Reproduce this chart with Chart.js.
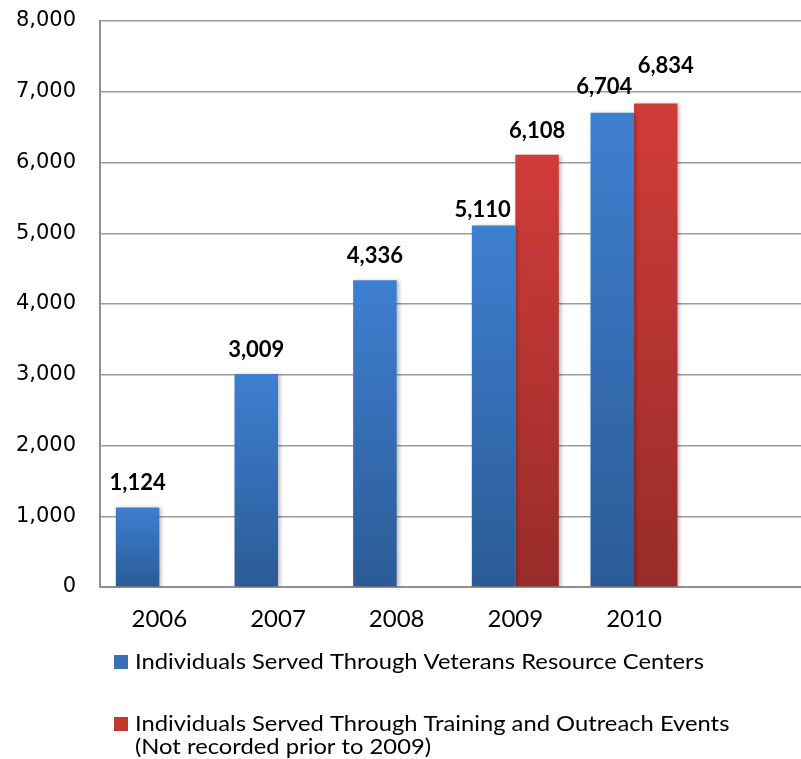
<!DOCTYPE html>
<html>
<head>
<meta charset="utf-8">
<script src="https://cdn.jsdelivr.net/npm/chart.js@4.4.1/dist/chart.umd.min.js"></script>
<style>
  html, body { margin: 0; padding: 0; background: #fff; overflow: hidden; }
  #wrap { position: relative; width: 812px; height: 759px; }
</style>
</head>
<body>
<div id="wrap"><canvas id="chart1"></canvas></div>
<script>
// Data
const years = ['2006', '2007', '2008', '2009', '2010', '']
const resourceCenters = [1124, 3009, 4336, 5110, 6704, null]
const outreachEvents = [null, null, null, 6108, 6834, null]
const yMax = 8000
const yStep = 1000

const seriesNames = [
    ['Individuals Served Through Veterans Resource Centers'],
    ['Individuals Served Through Training and Outreach Events', '(Not recorded prior to 2009)']
]

// gradient colours (top, bottom) and legend swatch colour
const blueTop = '#3e7fd0', blueBottom = '#2b5b96', blueSwatch = '#3a70b8'
const redTop = '#d03c3a', redBottom = '#982c29', redSwatch = '#c2382f'

// little hand placed shifts on some value labels [dx, gap]
const labelNudge = {
    '0-3': [-11, 8],
    '0-4': [-8, 19],
    '1-4': [10, 30]
}

function barGradient(top, bottom) {
    return (context) => {
        const chart = context.chart
        const area = chart.chartArea
        if (!area || context.raw == null) return top
        const y = chart.scales.y
        const yTop = y.getPixelForValue(context.raw)
        const yBase = y.getPixelForValue(0)
        const g = chart.ctx.createLinearGradient(0, yTop, 0, yBase)
        g.addColorStop(0, top)
        g.addColorStop(1, bottom)
        return g
    }
}

// soft shadow under the bars
const barShadow = {
    id: 'barShadow',
    beforeDatasetsDraw(chart) {
        const ctx = chart.ctx
        ctx.save()
        ctx.shadowColor = 'rgba(0,0,0,0.28)'
        ctx.shadowBlur = 4
        ctx.shadowOffsetX = 2
        ctx.shadowOffsetY = 1
    },
    afterDatasetsDraw(chart) {
        chart.ctx.restore()
    }
}

// value labels above each bar
const valueLabels = {
    id: 'valueLabels',
    afterDraw(chart) {
        const ctx = chart.ctx
        ctx.save()
        ctx.font = 'bold 22px Lato'
        ctx.fillStyle = '#000'
        ctx.textAlign = 'center'
        ctx.textBaseline = 'alphabetic'
        chart.data.datasets.forEach((ds, di) => {
            const meta = chart.getDatasetMeta(di)
            meta.data.forEach((bar, i) => {
                const v = ds.data[i]
                if (v == null) return
                const nudge = labelNudge[di + '-' + i] || [0, 17]
                ctx.fillText(v.toLocaleString('en-US'), bar.x + nudge[0], bar.y - nudge[1])
            })
        })
        ctx.restore()
    }
}

// legend under the axis, one item per row, second one on two lines
const stackedLegend = {
    id: 'stackedLegend',
    afterDraw(chart) {
        const ctx = chart.ctx
        const left = chart.chartArea.left
        const base = chart.chartArea.bottom
        const rows = [[75], [137, 160]]
        ctx.save()
        ctx.font = '22px Lato'
        ctx.fillStyle = '#000'
        ctx.textBaseline = 'middle'
        chart.data.datasets.forEach((ds, di) => {
            const lines = seriesNames[di]
            const ys = rows[di]
            ctx.fillStyle = ds.swatch
            ctx.fillRect(left + 14, base + ys[0] - 7, 14, 14)
            ctx.fillStyle = '#000'
            lines.forEach((t, li) => {
                ctx.save()
                ctx.translate(left + 35, base + ys[li])
                ctx.scale(1.08, 1)
                ctx.fillText(t, 0, 0)
                ctx.restore()
            })
        })
        ctx.restore()
    }
}

const ctx = document.getElementById('chart1').getContext('2d')

const chart1 = new Chart(ctx, {
    type: 'bar',
    data: {
        labels: years,
        datasets: [{
            label: seriesNames[0].join(' '),
            data: resourceCenters,
            backgroundColor: barGradient(blueTop, blueBottom),
            swatch: blueSwatch,
            borderWidth: 0
        }, {
            label: seriesNames[1].join(' '),
            data: outreachEvents,
            backgroundColor: barGradient(redTop, redBottom),
            swatch: redSwatch,
            borderWidth: 0
        }]
    },
    options: {
        responsive: true,
        maintainAspectRatio: false,
        animation: false,
        categoryPercentage: 0.733,
        barPercentage: 1,
        layout: {
            padding: { top: 21, right: 0, bottom: 112, left: 0 }
        },
        plugins: {
            legend: { display: false },
            tooltip: { enabled: false }
        },
        scales: {
            x: {
                grid: { display: false, drawTicks: false },
                border: { display: true, color: '#8f8f8f', width: 2 },
                ticks: {
                    color: '#000',
                    font: { family: 'Lato', size: 24 },
                    padding: 18,
                    maxRotation: 0
                },
                afterFit: (axis) => { axis.height = 60 }
            },
            y: {
                min: 0,
                max: yMax,
                grid: { color: '#9a9a9a', lineWidth: 1.5, drawTicks: false },
                border: { display: true, color: '#8f8f8f', width: 2 },
                ticks: {
                    stepSize: yStep,
                    color: '#000',
                    font: { family: 'DejaVu Sans', size: 21 },
                    padding: 24,
                    callback: (v) => v.toLocaleString('en-US')
                },
                afterFit: (axis) => {
                    axis.width = 100
                    axis.paddingTop = 0
                    axis.paddingBottom = 0
                }
            }
        }
    },
    plugins: [barShadow, valueLabels, stackedLegend]
})
</script>
</body>
</html>
